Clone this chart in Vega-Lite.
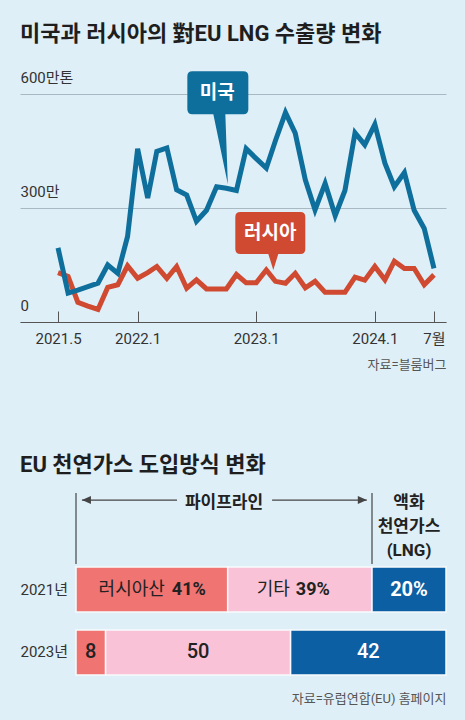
{
  "$schema": "https://vega.github.io/schema/vega-lite/v6.json",
  "background": "#dfeff7",
  "padding": {"left": 20, "top": 23, "right": 19, "bottom": 16},
  "datasets": {
    "lng": [
      {"country": "미국", "date": "2021-05-01", "value": 195},
      {"country": "미국", "date": "2021-06-01", "value": 76},
      {"country": "미국", "date": "2021-07-01", "value": 84},
      {"country": "미국", "date": "2021-08-01", "value": 93},
      {"country": "미국", "date": "2021-09-01", "value": 102},
      {"country": "미국", "date": "2021-10-01", "value": 150},
      {"country": "미국", "date": "2021-11-01", "value": 128},
      {"country": "미국", "date": "2021-12-01", "value": 225},
      {"country": "미국", "date": "2022-01-01", "value": 456},
      {"country": "미국", "date": "2022-02-01", "value": 326},
      {"country": "미국", "date": "2022-03-01", "value": 449},
      {"country": "미국", "date": "2022-04-01", "value": 458},
      {"country": "미국", "date": "2022-05-01", "value": 348},
      {"country": "미국", "date": "2022-06-01", "value": 334},
      {"country": "미국", "date": "2022-07-01", "value": 265},
      {"country": "미국", "date": "2022-08-01", "value": 294},
      {"country": "미국", "date": "2022-09-01", "value": 356},
      {"country": "미국", "date": "2022-10-01", "value": 352},
      {"country": "미국", "date": "2022-11-01", "value": 346},
      {"country": "미국", "date": "2022-12-01", "value": 456},
      {"country": "미국", "date": "2023-01-01", "value": 430},
      {"country": "미국", "date": "2023-02-01", "value": 405},
      {"country": "미국", "date": "2023-03-01", "value": 477},
      {"country": "미국", "date": "2023-04-01", "value": 551},
      {"country": "미국", "date": "2023-05-01", "value": 497},
      {"country": "미국", "date": "2023-06-01", "value": 374},
      {"country": "미국", "date": "2023-07-01", "value": 295},
      {"country": "미국", "date": "2023-08-01", "value": 365},
      {"country": "미국", "date": "2023-09-01", "value": 280},
      {"country": "미국", "date": "2023-10-01", "value": 346},
      {"country": "미국", "date": "2023-11-01", "value": 498},
      {"country": "미국", "date": "2023-12-01", "value": 466},
      {"country": "미국", "date": "2024-01-01", "value": 520},
      {"country": "미국", "date": "2024-02-01", "value": 418},
      {"country": "미국", "date": "2024-03-01", "value": 356},
      {"country": "미국", "date": "2024-04-01", "value": 393},
      {"country": "미국", "date": "2024-05-01", "value": 294},
      {"country": "미국", "date": "2024-06-01", "value": 246},
      {"country": "미국", "date": "2024-07-01", "value": 141},
      {"country": "러시아", "date": "2021-05-01", "value": 130},
      {"country": "러시아", "date": "2021-06-01", "value": 120},
      {"country": "러시아", "date": "2021-07-01", "value": 52},
      {"country": "러시아", "date": "2021-08-01", "value": 42},
      {"country": "러시아", "date": "2021-09-01", "value": 33},
      {"country": "러시아", "date": "2021-10-01", "value": 91},
      {"country": "러시아", "date": "2021-11-01", "value": 98},
      {"country": "러시아", "date": "2021-12-01", "value": 148},
      {"country": "러시아", "date": "2022-01-01", "value": 115},
      {"country": "러시아", "date": "2022-02-01", "value": 130},
      {"country": "러시아", "date": "2022-03-01", "value": 146},
      {"country": "러시아", "date": "2022-04-01", "value": 115},
      {"country": "러시아", "date": "2022-05-01", "value": 146},
      {"country": "러시아", "date": "2022-06-01", "value": 89},
      {"country": "러시아", "date": "2022-07-01", "value": 111},
      {"country": "러시아", "date": "2022-08-01", "value": 87},
      {"country": "러시아", "date": "2022-09-01", "value": 87},
      {"country": "러시아", "date": "2022-10-01", "value": 87},
      {"country": "러시아", "date": "2022-11-01", "value": 125},
      {"country": "러시아", "date": "2022-12-01", "value": 103},
      {"country": "러시아", "date": "2023-01-01", "value": 103},
      {"country": "러시아", "date": "2023-02-01", "value": 137},
      {"country": "러시아", "date": "2023-03-01", "value": 107},
      {"country": "러시아", "date": "2023-04-01", "value": 102},
      {"country": "러시아", "date": "2023-05-01", "value": 128},
      {"country": "러시아", "date": "2023-06-01", "value": 90},
      {"country": "러시아", "date": "2023-07-01", "value": 107},
      {"country": "러시아", "date": "2023-08-01", "value": 78},
      {"country": "러시아", "date": "2023-09-01", "value": 78},
      {"country": "러시아", "date": "2023-10-01", "value": 78},
      {"country": "러시아", "date": "2023-11-01", "value": 118},
      {"country": "러시아", "date": "2023-12-01", "value": 110},
      {"country": "러시아", "date": "2024-01-01", "value": 146},
      {"country": "러시아", "date": "2024-02-01", "value": 111},
      {"country": "러시아", "date": "2024-03-01", "value": 160},
      {"country": "러시아", "date": "2024-04-01", "value": 141},
      {"country": "러시아", "date": "2024-05-01", "value": 141},
      {"country": "러시아", "date": "2024-06-01", "value": 98},
      {"country": "러시아", "date": "2024-07-01", "value": 124}
    ],
    "header": [
      {"part": "파이프라인", "share": 80, "order": 1},
      {"part": "액화\n천연가스\n(LNG)", "share": 20, "order": 2}
    ],
    "share": [
      {"year": "2021년", "source": "러시아", "name": "러시아산", "label": "41%", "pct": 41, "order": 1},
      {"year": "2021년", "source": "기타", "name": "기타", "label": "39%", "pct": 39, "order": 2},
      {"year": "2021년", "source": "LNG", "name": "", "label": "20%", "pct": 20, "order": 3},
      {"year": "2023년", "source": "러시아", "name": "", "label": "8", "pct": 8, "order": 1},
      {"year": "2023년", "source": "기타", "name": "", "label": "50", "pct": 50, "order": 2},
      {"year": "2023년", "source": "LNG", "name": "", "label": "42", "pct": 42, "order": 3}
    ]
  },
  "spacing": 83,
  "resolve": {"scale": {"x": "independent", "y": "independent", "color": "independent"}},
  "vconcat": [
    {
      "width": 426,
      "height": 228,
      "title": {
        "text": "미국과 러시아의 對EU LNG 수출량 변화",
        "anchor": "start",
        "frame": "group",
        "fontSize": 22,
        "fontWeight": "bold",
        "color": "#1e1e1e",
        "offset": 24
      },
      "data": {"name": "lng"},
      "encoding": {
        "x": {
          "field": "date",
          "type": "temporal",
          "scale": {
            "type": "utc",
            "domain": [
              {"year": 2021, "month": 1, "date": 4, "utc": true},
              {"year": 2024, "month": 8, "date": 7, "utc": true}
            ]
          },
          "axis": {
            "values": [
              {"year": 2021, "month": 5, "date": 1, "utc": true},
              {"year": 2022, "month": 1, "date": 1, "utc": true},
              {"year": 2023, "month": 1, "date": 1, "utc": true},
              {"year": 2024, "month": 1, "date": 1, "utc": true},
              {"year": 2024, "month": 7, "date": 1, "utc": true}
            ],
            "labelExpr": "utcyear(datum.value) == 2024 && utcmonth(datum.value) == 6 ? '7월' : utcyear(datum.value) + '.' + (utcmonth(datum.value) + 1)",
            "grid": false,
            "domainColor": "#555555",
            "tickColor": "#555555",
            "tickSize": -11,
            "labelPadding": 20,
            "labelFontSize": 15,
            "labelColor": "#333333",
            "labelFlush": false,
            "labelOverlap": false,
            "title": "자료=블룸버그",
            "titleAnchor": "end",
            "titleFontSize": 13,
            "titleFontWeight": "normal",
            "titleColor": "#555555",
            "titlePadding": 12,
            "zindex": 1
          }
        },
        "y": {
          "field": "value",
          "type": "quantitative",
          "scale": {"domain": [0, 600]},
          "axis": {
            "values": [0, 300, 600],
            "labelExpr": "datum.value == 600 ? '600만톤' : datum.value == 300 ? '300만' : '0'",
            "orient": "left",
            "domain": false,
            "ticks": false,
            "labelAlign": "left",
            "labelBaseline": "alphabetic",
            "labelPadding": 0,
            "labelOffset": -12,
            "labelFontSize": 15,
            "labelColor": "#333333",
            "gridColor": "#a9b9c4",
            "title": null
          }
        },
        "color": {
          "field": "country",
          "type": "nominal",
          "scale": {"domain": ["미국", "러시아"], "range": ["#0e6f9c", "#cf4a30"]},
          "legend": null
        }
      },
      "layer": [
        {
          "transform": [{"filter": "datum.country == '러시아'"}],
          "mark": {"type": "line", "strokeWidth": 5}
        },
        {
          "transform": [{"filter": "datum.country == '미국'"}],
          "mark": {"type": "line", "strokeWidth": 5}
        },
        {
          "transform": [{"filter": "datum.country == '미국' && utcyear(datum.date) == 2022 && utcmonth(datum.date) == 9"}],
          "mark": {
            "type": "point",
            "shape": "M-34,-117 L17,-117 Q22,-117 22,-112 L22,-79 Q22,-74 17,-74 L-1,-74 L1.5,-4 L-13,-74 L-34,-74 Q-39,-74 -39,-79 L-39,-112 Q-39,-117 -34,-117 Z",
            "size": 4,
            "filled": true,
            "opacity": 1,
            "strokeWidth": 0
          }
        },
        {
          "transform": [{"filter": "datum.country == '미국' && utcyear(datum.date) == 2022 && utcmonth(datum.date) == 9"}],
          "mark": {
            "type": "text",
            "text": "미국",
            "dx": -9,
            "dy": -95,
            "align": "center",
            "baseline": "middle",
            "fontSize": 19,
            "fontWeight": "bold"
          },
          "encoding": {"color": {"value": "#ffffff"}}
        },
        {
          "transform": [{"filter": "datum.country == '러시아' && utcyear(datum.date) == 2023 && utcmonth(datum.date) == 1"}],
          "mark": {
            "type": "point",
            "shape": "M-26,-58 L34,-58 Q39,-58 39,-53 L39,-21 Q39,-16 34,-16 L12,-16 L7,0 L2,-16 L-26,-16 Q-31,-16 -31,-21 L-31,-53 Q-31,-58 -26,-58 Z",
            "size": 4,
            "filled": true,
            "opacity": 1,
            "strokeWidth": 0
          }
        },
        {
          "transform": [{"filter": "datum.country == '러시아' && utcyear(datum.date) == 2023 && utcmonth(datum.date) == 1"}],
          "mark": {
            "type": "text",
            "text": "러시아",
            "dx": 4,
            "dy": -37,
            "align": "center",
            "baseline": "middle",
            "fontSize": 19,
            "fontWeight": "bold"
          },
          "encoding": {"color": {"value": "#ffffff"}}
        }
      ]
    },
    {
      "spacing": 1,
      "resolve": {"scale": {"x": "independent", "y": "independent", "color": "independent"}},
      "vconcat": [
        {
          "width": 426,
          "height": 71,
          "title": {
            "text": "EU 천연가스 도입방식 변화",
            "anchor": "start",
            "frame": "group",
            "fontSize": 22,
            "fontWeight": "bold",
            "color": "#1e1e1e",
            "offset": 15
          },
          "data": {"name": "header"},
          "layer": [
            {
              "mark": {"type": "rule", "color": "#444444", "strokeWidth": 1.2},
              "encoding": {
                "x": {
                  "field": "share",
                  "type": "quantitative",
                  "stack": "zero",
                  "bandPosition": 0,
                  "scale": {"domain": [0, 100], "range": [56, 426]},
                  "axis": null
                },
                "y": {"datum": 0, "type": "quantitative", "scale": {"domain": [0, 1]}, "axis": null},
                "y2": {"datum": 1},
                "detail": {"field": "part"},
                "order": {"field": "order"}
              }
            },
            {
              "transform": [{"filter": "datum.order == 1"}],
              "mark": {"type": "rule", "color": "#444444", "strokeWidth": 1.2},
              "encoding": {
                "x": {"datum": 1.6, "type": "quantitative"},
                "x2": {"datum": 27.3},
                "y": {"datum": 0.9, "type": "quantitative"}
              }
            },
            {
              "transform": [{"filter": "datum.order == 1"}],
              "mark": {"type": "rule", "color": "#444444", "strokeWidth": 1.2},
              "encoding": {
                "x": {"datum": 53, "type": "quantitative"},
                "x2": {"datum": 78.6},
                "y": {"datum": 0.9, "type": "quantitative"}
              }
            },
            {
              "transform": [{"filter": "datum.order == 1"}],
              "mark": {"type": "point", "shape": "M0,0 L9,-4 L9,4 Z", "size": 4, "filled": true, "opacity": 1, "color": "#444444", "strokeWidth": 0},
              "encoding": {
                "x": {"datum": 1.6, "type": "quantitative"},
                "y": {"datum": 0.9, "type": "quantitative"}
              }
            },
            {
              "transform": [{"filter": "datum.order == 1"}],
              "mark": {"type": "point", "shape": "M0,0 L-9,-4 L-9,4 Z", "size": 4, "filled": true, "opacity": 1, "color": "#444444", "strokeWidth": 0},
              "encoding": {
                "x": {"datum": 78.6, "type": "quantitative"},
                "y": {"datum": 0.9, "type": "quantitative"}
              }
            },
            {
              "mark": {
                "type": "text",
                "baseline": "top",
                "align": "center",
                "fontSize": 17,
                "fontWeight": "bold",
                "lineBreak": "\n",
                "lineHeight": 24,
                "color": "#222222"
              },
              "encoding": {
                "x": {
                  "field": "share",
                  "type": "quantitative",
                  "stack": "zero",
                  "bandPosition": 0.5
                },
                "y": {"datum": 0.97, "type": "quantitative"},
                "text": {"field": "part"},
                "detail": {"field": "part"},
                "order": {"field": "order"}
              }
            }
          ]
        },
        {
          "width": 426,
          "height": 108,
          "data": {"name": "share"},
          "encoding": {
            "y": {
              "field": "year",
              "type": "nominal",
              "sort": null,
              "scale": {"paddingInner": 0.2857, "paddingOuter": 0},
              "axis": {
                "orient": "left",
                "domain": false,
                "ticks": false,
                "labelAlign": "left",
                "labelPadding": 0,
                "labelFontSize": 15,
                "labelColor": "#333333",
                "title": null
              }
            },
            "x": {
              "field": "pct",
              "type": "quantitative",
              "stack": "zero",
              "scale": {"domain": [0, 100], "range": [56, 426]},
              "axis": {
                "labels": false,
                "ticks": false,
                "domain": false,
                "grid": false,
                "title": "자료=유럽연합(EU) 홈페이지",
                "titleAnchor": "end",
                "titleFontSize": 13,
                "titleFontWeight": "normal",
                "titleColor": "#555555",
                "titlePadding": 17
              }
            },
            "order": {"field": "order"}
          },
          "layer": [
            {
              "mark": {"type": "bar", "stroke": "#f7fbfd", "strokeWidth": 1.5},
              "encoding": {
                "color": {
                  "field": "source",
                  "type": "nominal",
                  "scale": {"domain": ["러시아", "기타", "LNG"], "range": ["#f07472", "#f9c2d6", "#0b5fa2"]},
                  "legend": null
                }
              }
            },
            {
              "mark": {
                "type": "text",
                "align": "right",
                "baseline": "middle",
                "fontSize": 18,
                "color": "#222222",
                "dx": {"expr": "datum.source == '러시아' ? 13 : -10"}
              },
              "encoding": {
                "x": {"field": "pct", "type": "quantitative", "stack": "zero", "bandPosition": 0.5},
                "detail": {"field": "source"},
                "text": {"field": "name"}
              }
            },
            {
              "mark": {
                "type": "text",
                "align": "left",
                "baseline": "middle",
                "fontSize": 18,
                "fontWeight": "bold",
                "color": "#222222",
                "dx": {"expr": "datum.source == '러시아' ? 20 : -4"}
              },
              "encoding": {
                "x": {"field": "pct", "type": "quantitative", "stack": "zero", "bandPosition": 0.5},
                "detail": {"field": "source"},
                "text": {"condition": {"test": "datum.name != ''", "field": "label"}, "value": ""}
              }
            },
            {
              "mark": {
                "type": "text",
                "align": "center",
                "baseline": "middle",
                "fontSize": 20,
                "fontWeight": {"expr": "datum.year == '2021년' ? 'bold' : 500"}
              },
              "encoding": {
                "x": {"field": "pct", "type": "quantitative", "stack": "zero", "bandPosition": 0.5},
                "detail": {"field": "source"},
                "text": {"condition": {"test": "datum.name == ''", "field": "label"}, "value": ""},
                "color": {"condition": {"test": "datum.source == 'LNG'", "value": "#ffffff"}, "value": "#222222"}
              }
            }
          ]
        }
      ]
    }
  ],
  "config": {
    "font": "Roboto, Noto Sans CJK KR",
    "view": {"stroke": null}
  }
}
